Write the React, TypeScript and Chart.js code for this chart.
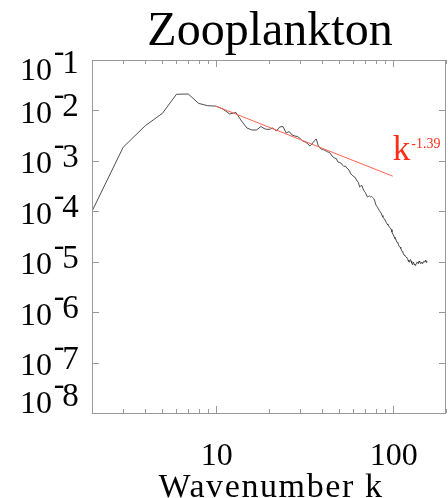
import React, { useEffect, useRef } from "react";
import { Chart, registerables } from "chart.js";

Chart.register(...registerables);

// Power spectrum of zooplankton, one value per integer wavenumber starting at k = 2
const firstWavenumber = 2;
const spectrum = [
  1.0e-4, 1.86e-3, 4.98e-3, 8.77e-3, 2.09e-2, 2.12e-2, 1.38e-2, 1.24e-2, // k 2-9
  1.22e-2, 1.06e-2, 8.5e-3, 9.1e-3, 6.17e-3, 4.48e-3, 4.1e-3, 4.1e-3, 4.8e-3, 4.28e-3, // k 10-19
  4.19e-3, 4.48e-3, 3.92e-3, 4.7e-3, 4.8e-3, 3.57e-3, 3.82e-3, 3.26e-3, 3.11e-3, 3.04e-3, // k 20-29
  2.77e-3, 2.48e-3, 2.37e-3, 2.21e-3, 1.97e-3, 2.16e-3, 2.48e-3, 2.71e-3, 1.97e-3, 1.76e-3, // k 30-39
  1.68e-3, 1.64e-3, 1.57e-3, 1.5e-3, 1.47e-3, 1.31e-3, 1.19e-3, 1.14e-3, 1.11e-3, 9.49e-4, // k 40-49
  9.28e-4, 9.07e-4, 8.28e-4, 7.73e-4, 7.91e-4, 7.22e-4, 6.89e-4, 6.29e-4, 5.49e-4, 5.24e-4, // k 50-59
  4.9e-4, 4.79e-4, 4.37e-4, 3.99e-4, 3.73e-4, 3.03e-4, 3.17e-4, 3.25e-4, 2.77e-4, 2.52e-4, // k 60-69
  2.36e-4, 2.11e-4, 1.92e-4, 1.97e-4, 2.01e-4, 1.92e-4, 1.97e-4, 1.88e-4, 1.79e-4, 1.67e-4, // k 70-79
  1.39e-4, 1.27e-4, 1.21e-4, 1.11e-4, 1.04e-4, 9.68e-5, 9.25e-5, 8.25e-5, 7.7e-5, 7.19e-5, // k 80-89
  7.03e-5, 6.42e-5, 5.99e-5, 5.6e-5, 5.35e-5, 5.11e-5, 4.77e-5, 4.66e-5, 4.35e-5, 3.88e-5, // k 90-99
  3.54e-5, 3.39e-5, 3.09e-5, 2.88e-5, 2.82e-5, 2.57e-5, 2.4e-5, 2.35e-5, 2.15e-5, 2.0e-5, // k 100-109
  1.96e-5, 1.83e-5, 1.71e-5, 1.59e-5, 1.56e-5, 1.42e-5, 1.36e-5, 1.33e-5, 1.27e-5, 1.24e-5, // k 110-119
  1.21e-5, 1.16e-5, 1.08e-5, 1.01e-5, 9.87e-6, 1.08e-5, 1.11e-5, 1.03e-5, 9.43e-6, 8.81e-6, // k 120-129
  9.43e-6, 9.87e-6, 9.01e-6, 8.61e-6, 8.42e-6, 9.01e-6, 9.22e-6, 9.87e-6, 9.65e-6, 9.22e-6, // k 130-139
  9.87e-6, 1.03e-5, 9.87e-6, 9.43e-6, 9.22e-6, 9.65e-6, 9.87e-6, 9.22e-6, 9.43e-6, 9.87e-6, // k 140-149
  1.01e-5, 9.87e-6, 1.03e-5, 1.06e-5, 1.01e-5, 9.65e-6, 1.01e-5, 9.87e-6, // k 150-157
];

// Power-law fit k^-1.39 over the range 10 <= k <= 100
const fitRange = [10, 100];
const fitAmplitude = 1.22e-2; // value at k = 10
const fitExponent = -1.39;

// Axes
const xRange = [2, 200];
const yRange = [1e-8, 1e-1];
const xLabelTicks = [10, 100];
const xMinorTicks = [2, 3, 4, 5, 6, 7, 8, 9, 20, 30, 40, 50, 60, 70, 80, 90, 200];
const yTickExponents = [-1, -2, -3, -4, -5, -6, -7, -8];

const titleText = "Zooplankton";
const xAxisTitle = "Wavenumber k";

const SERIF = '"Liberation Serif", "Times New Roman", serif';
const FRAME = "#999999";
const RED = "#ff2d1a";

const decorations = {
  id: "decorations",
  afterDraw(chart: any) {
    const { ctx, chartArea } = chart;
    const xs = chart.scales.x;
    const ys = chart.scales.y;
    const { left, right, top, bottom } = chartArea;
    ctx.save();

    // frame
    ctx.strokeStyle = FRAME;
    ctx.lineWidth = 1;
    ctx.strokeRect(Math.round(left) + 0.5, Math.round(top) + 0.5, Math.round(right - left) - 1, Math.round(bottom - top));

    // x ticks, inward on bottom and top
    ctx.beginPath();
    const xTick = (v: number, len: number) => {
      const px = Math.round(xs.getPixelForValue(v)) + 0.5;
      ctx.moveTo(px, bottom);
      ctx.lineTo(px, bottom - len);
      ctx.moveTo(px, top);
      ctx.lineTo(px, top + len);
    };
    xMinorTicks.forEach((v) => xTick(v, 4));
    xLabelTicks.forEach((v) => xTick(v, 7));
    // y ticks at every decade, inward on left and right
    yTickExponents.forEach((e) => {
      const py = Math.round(ys.getPixelForValue(Math.pow(10, e))) + 0.5;
      ctx.moveTo(left, py);
      ctx.lineTo(left + 7, py);
      ctx.moveTo(right, py);
      ctx.lineTo(right - 7, py);
    });
    ctx.stroke();

    ctx.fillStyle = "#000";
    ctx.textBaseline = "alphabetic";

    // y tick labels 10^e
    yTickExponents.forEach((e) => {
      const py = ys.getPixelForValue(Math.pow(10, e));
      let base = py + 12.6;
      base = Math.min(base, bottom);
      base = Math.max(base, top - 10 + 30);
      const x0 = 20;
      ctx.textAlign = "left";
      ctx.font = `32px ${SERIF}`;
      ctx.fillText("10", x0, base);
      const w = ctx.measureText("10").width;
      ctx.fillText("-", x0 + w + 1.7, base - 19.2);
      ctx.font = `33px ${SERIF}`;
      ctx.fillText(String(Math.abs(e)), x0 + w + 10.3, base - 6.6);
    });

    // x tick labels
    ctx.font = `32px ${SERIF}`;
    ctx.textAlign = "center";
    xLabelTicks.forEach((v) => {
      ctx.fillText(String(v), xs.getPixelForValue(v) + 1, bottom + 52);
    });

    // axis title
    ctx.font = `34px ${SERIF}`;
    (ctx as any).letterSpacing = "1.6px";
    ctx.fillText(xAxisTitle, (left + right) / 2 + 2, bottom + 83.5);
    (ctx as any).letterSpacing = "0px";

    // chart title
    ctx.font = `48px ${SERIF}`;
    ctx.fillText(titleText, (left + right) / 2 + 1, top - 15);

    // fit label k^-1.39 next to the end of the fit line
    const endX = xs.getPixelForValue(fitRange[1]);
    const endY = ys.getPixelForValue(fitAmplitude * Math.pow(fitRange[1] / fitRange[0], fitExponent));
    ctx.fillStyle = RED;
    ctx.textAlign = "left";
    ctx.font = `35px ${SERIF}`;
    ctx.fillText("k", endX, endY - 16);
    const kw = ctx.measureText("k").width;
    ctx.font = `14px ${SERIF}`;
    ctx.fillText(String(fitExponent), endX + kw + 1, endY - 28.5);

    ctx.restore();
  },
};

export default function App() {
  const canvasRef = useRef<HTMLCanvasElement | null>(null);

  useEffect(() => {
    const canvas = canvasRef.current;
    if (!canvas) return;

    const curve = spectrum.map((v, i) => ({ x: firstWavenumber + i, y: v }));
    const fit = fitRange.map((k) => ({
      x: k,
      y: fitAmplitude * Math.pow(k / fitRange[0], fitExponent),
    }));

    const chart = new Chart(canvas, {
      type: "line",
      data: {
        datasets: [
          {
            data: fit,
            borderColor: "#ff6150",
            borderWidth: 1,
            pointRadius: 0,
            tension: 0,
          },
          {
            data: curve,
            borderColor: "#3a3a3a",
            borderWidth: 0.9,
            pointRadius: 0,
            tension: 0,
          },
        ],
      },
      options: {
        responsive: false,
        animation: false,
        events: [],
        layout: { padding: { left: 92, top: 60, right: 2, bottom: 85 } },
        plugins: {
          legend: { display: false },
          tooltip: { enabled: false },
          title: { display: false },
        },
        scales: {
          x: { type: "logarithmic", min: xRange[0], max: xRange[1], display: false },
          y: { type: "logarithmic", min: yRange[0], max: yRange[1], display: false },
        },
      },
      plugins: [decorations],
    });

    return () => chart.destroy();
  }, []);

  return (
    <div style={{ position: "fixed", left: 0, top: 0, width: 448, height: 498, background: "#fff" }}>
      <canvas ref={canvasRef} width={448} height={498} style={{ display: "block" }} />
    </div>
  );
}
